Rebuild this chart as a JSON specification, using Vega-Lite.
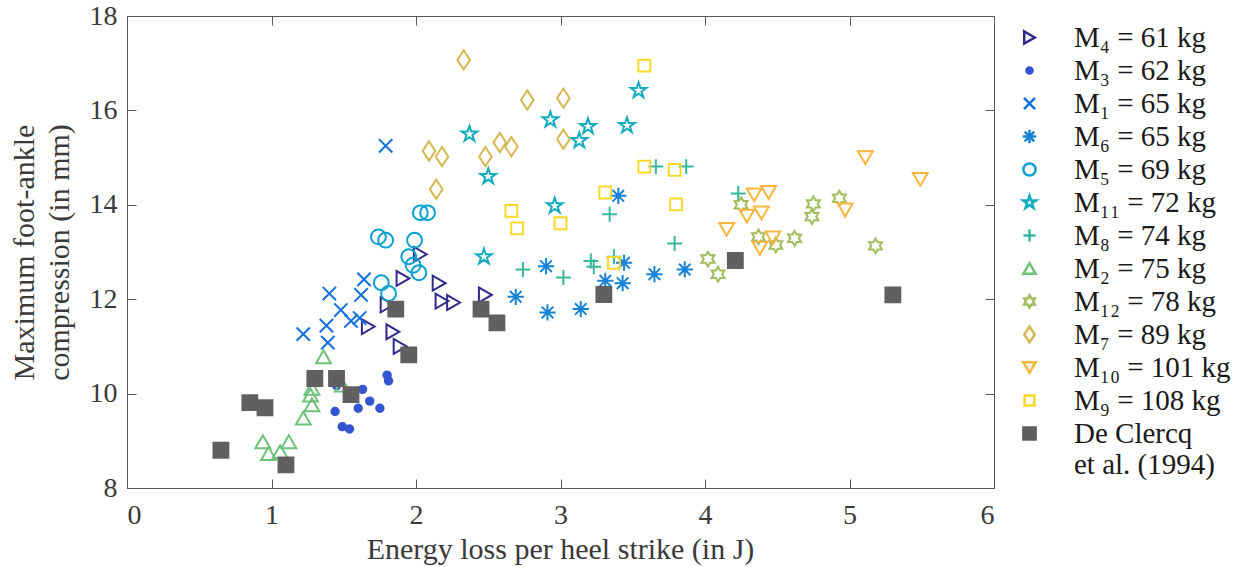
{
  "$schema": "https://vega.github.io/schema/vega-lite/v6.json",
  "autosize": "none",
  "width": 867,
  "height": 472,
  "padding": {"left": 127, "top": 16, "right": 255, "bottom": 79},
  "background": "white",
  "data": {"values": [
    {"s":"M₄ = 61 kg","x":2.03,"y":12.95},{"s":"M₄ = 61 kg","x":1.91,"y":12.44},{"s":"M₄ = 61 kg","x":2.16,"y":12.34},{"s":"M₄ = 61 kg","x":2.18,"y":11.96},{"s":"M₄ = 61 kg","x":2.26,"y":11.93},{"s":"M₄ = 61 kg","x":2.48,"y":12.09},{"s":"M₄ = 61 kg","x":1.80,"y":11.88},{"s":"M₄ = 61 kg","x":1.67,"y":11.42},{"s":"M₄ = 61 kg","x":1.84,"y":11.31},{"s":"M₄ = 61 kg","x":1.89,"y":11.0},
    {"s":"M₃ = 62 kg","x":1.80,"y":10.39},{"s":"M₃ = 62 kg","x":1.81,"y":10.27},{"s":"M₃ = 62 kg","x":1.63,"y":10.09},{"s":"M₃ = 62 kg","x":1.68,"y":9.84},{"s":"M₃ = 62 kg","x":1.60,"y":9.69},{"s":"M₃ = 62 kg","x":1.75,"y":9.69},{"s":"M₃ = 62 kg","x":1.44,"y":9.62},{"s":"M₃ = 62 kg","x":1.49,"y":9.30},{"s":"M₃ = 62 kg","x":1.54,"y":9.25},{"s":"M₃ = 62 kg","x":1.45,"y":10.17},
    {"s":"M₁ = 65 kg","x":1.64,"y":12.42},{"s":"M₁ = 65 kg","x":1.62,"y":12.09},{"s":"M₁ = 65 kg","x":1.40,"y":12.12},{"s":"M₁ = 65 kg","x":1.48,"y":11.77},{"s":"M₁ = 65 kg","x":1.38,"y":11.44},{"s":"M₁ = 65 kg","x":1.55,"y":11.54},{"s":"M₁ = 65 kg","x":1.61,"y":11.60},{"s":"M₁ = 65 kg","x":1.22,"y":11.26},{"s":"M₁ = 65 kg","x":1.39,"y":11.08},{"s":"M₁ = 65 kg","x":1.79,"y":15.25},
    {"s":"M₆ = 65 kg","x":2.90,"y":12.70},{"s":"M₆ = 65 kg","x":2.69,"y":12.05},{"s":"M₆ = 65 kg","x":2.91,"y":11.72},{"s":"M₆ = 65 kg","x":3.14,"y":11.79},{"s":"M₆ = 65 kg","x":3.31,"y":12.39},{"s":"M₆ = 65 kg","x":3.43,"y":12.34},{"s":"M₆ = 65 kg","x":3.44,"y":12.77},{"s":"M₆ = 65 kg","x":3.65,"y":12.53},{"s":"M₆ = 65 kg","x":3.86,"y":12.63},{"s":"M₆ = 65 kg","x":3.40,"y":14.19},
    {"s":"M₅ = 69 kg","x":2.03,"y":13.83},{"s":"M₅ = 69 kg","x":2.08,"y":13.83},{"s":"M₅ = 69 kg","x":1.74,"y":13.32},{"s":"M₅ = 69 kg","x":1.79,"y":13.25},{"s":"M₅ = 69 kg","x":1.99,"y":13.25},{"s":"M₅ = 69 kg","x":1.95,"y":12.90},{"s":"M₅ = 69 kg","x":1.98,"y":12.72},{"s":"M₅ = 69 kg","x":2.02,"y":12.56},{"s":"M₅ = 69 kg","x":1.76,"y":12.35},{"s":"M₅ = 69 kg","x":1.81,"y":12.12},
    {"s":"M₁₁ = 72 kg","x":3.54,"y":16.42},{"s":"M₁₁ = 72 kg","x":2.37,"y":15.50},{"s":"M₁₁ = 72 kg","x":2.93,"y":15.80},{"s":"M₁₁ = 72 kg","x":3.19,"y":15.66},{"s":"M₁₁ = 72 kg","x":3.13,"y":15.36},{"s":"M₁₁ = 72 kg","x":3.46,"y":15.68},{"s":"M₁₁ = 72 kg","x":2.50,"y":14.60},{"s":"M₁₁ = 72 kg","x":2.96,"y":13.98},{"s":"M₁₁ = 72 kg","x":2.47,"y":12.90},
    {"s":"M₈ = 74 kg","x":3.66,"y":14.81},{"s":"M₈ = 74 kg","x":3.87,"y":14.81},{"s":"M₈ = 74 kg","x":3.34,"y":13.80},{"s":"M₈ = 74 kg","x":3.79,"y":13.18},{"s":"M₈ = 74 kg","x":2.74,"y":12.63},{"s":"M₈ = 74 kg","x":3.02,"y":12.46},{"s":"M₈ = 74 kg","x":3.21,"y":12.81},{"s":"M₈ = 74 kg","x":3.23,"y":12.69},{"s":"M₈ = 74 kg","x":3.37,"y":12.90},{"s":"M₈ = 74 kg","x":4.23,"y":14.24},
    {"s":"M₂ = 75 kg","x":1.36,"y":10.78},{"s":"M₂ = 75 kg","x":1.28,"y":10.11},{"s":"M₂ = 75 kg","x":1.27,"y":9.97},{"s":"M₂ = 75 kg","x":1.28,"y":9.76},{"s":"M₂ = 75 kg","x":1.22,"y":9.48},{"s":"M₂ = 75 kg","x":1.49,"y":10.18},{"s":"M₂ = 75 kg","x":0.94,"y":8.98},{"s":"M₂ = 75 kg","x":1.12,"y":8.98},{"s":"M₂ = 75 kg","x":0.98,"y":8.73},{"s":"M₂ = 75 kg","x":1.06,"y":8.77},
    {"s":"M₁₂ = 78 kg","x":4.25,"y":14.0},{"s":"M₁₂ = 78 kg","x":4.37,"y":13.32},{"s":"M₁₂ = 78 kg","x":4.49,"y":13.15},{"s":"M₁₂ = 78 kg","x":4.62,"y":13.29},{"s":"M₁₂ = 78 kg","x":4.75,"y":14.02},{"s":"M₁₂ = 78 kg","x":4.74,"y":13.75},{"s":"M₁₂ = 78 kg","x":4.93,"y":14.14},{"s":"M₁₂ = 78 kg","x":5.18,"y":13.13},{"s":"M₁₂ = 78 kg","x":4.02,"y":12.85},{"s":"M₁₂ = 78 kg","x":4.09,"y":12.53},
    {"s":"M₇ = 89 kg","x":2.09,"y":15.14},{"s":"M₇ = 89 kg","x":2.18,"y":15.02},{"s":"M₇ = 89 kg","x":2.14,"y":14.33},{"s":"M₇ = 89 kg","x":2.33,"y":17.07},{"s":"M₇ = 89 kg","x":2.48,"y":15.02},{"s":"M₇ = 89 kg","x":2.58,"y":15.32},{"s":"M₇ = 89 kg","x":2.66,"y":15.23},{"s":"M₇ = 89 kg","x":2.77,"y":16.22},{"s":"M₇ = 89 kg","x":3.02,"y":16.26},{"s":"M₇ = 89 kg","x":3.02,"y":15.39},
    {"s":"M₁₀ = 101 kg","x":5.11,"y":15.0},{"s":"M₁₀ = 101 kg","x":5.49,"y":14.54},{"s":"M₁₀ = 101 kg","x":4.97,"y":13.89},{"s":"M₁₀ = 101 kg","x":4.15,"y":13.48},{"s":"M₁₀ = 101 kg","x":4.34,"y":14.21},{"s":"M₁₀ = 101 kg","x":4.44,"y":14.26},{"s":"M₁₀ = 101 kg","x":4.29,"y":13.76},{"s":"M₁₀ = 101 kg","x":4.39,"y":13.83},{"s":"M₁₀ = 101 kg","x":4.47,"y":13.30},{"s":"M₁₀ = 101 kg","x":4.38,"y":13.08},
    {"s":"M₉ = 108 kg","x":3.58,"y":16.95},{"s":"M₉ = 108 kg","x":3.58,"y":14.81},{"s":"M₉ = 108 kg","x":3.79,"y":14.74},{"s":"M₉ = 108 kg","x":3.31,"y":14.26},{"s":"M₉ = 108 kg","x":3.80,"y":14.01},{"s":"M₉ = 108 kg","x":2.66,"y":13.87},{"s":"M₉ = 108 kg","x":2.70,"y":13.50},{"s":"M₉ = 108 kg","x":3.00,"y":13.61},{"s":"M₉ = 108 kg","x":3.37,"y":12.77},
    {"s":"De Clercq et al. (1994)","x":0.65,"y":8.8},{"s":"De Clercq et al. (1994)","x":0.85,"y":9.81},{"s":"De Clercq et al. (1994)","x":0.955,"y":9.70},{"s":"De Clercq et al. (1994)","x":1.10,"y":8.49},{"s":"De Clercq et al. (1994)","x":1.30,"y":10.32},{"s":"De Clercq et al. (1994)","x":1.45,"y":10.32},{"s":"De Clercq et al. (1994)","x":1.55,"y":9.98},{"s":"De Clercq et al. (1994)","x":1.86,"y":11.79},{"s":"De Clercq et al. (1994)","x":1.95,"y":10.82},{"s":"De Clercq et al. (1994)","x":2.45,"y":11.79},{"s":"De Clercq et al. (1994)","x":2.56,"y":11.50},{"s":"De Clercq et al. (1994)","x":3.30,"y":12.10},{"s":"De Clercq et al. (1994)","x":4.21,"y":12.82},{"s":"De Clercq et al. (1994)","x":5.30,"y":12.09}
  ]},
  "layer": [
    {
      "mark": {"type": "point", "size": 220, "strokeWidth": 2, "opacity": 1},
      "encoding": {
        "x": {"field": "x", "type": "quantitative", "scale": {"domain": [0, 6], "nice": false},
              "axis": {"orient": "bottom", "title": "Energy loss per heel strike (in J)", "values": [0,1,2,3,4,5,6], "ticks": false, "labelPadding": 13, "titleX": 433, "titleY": 61, "titleBaseline": "middle", "titleAlign": "center"}},
        "y": {"field": "y", "type": "quantitative", "scale": {"domain": [8, 18], "nice": false, "zero": false},
              "axis": {"orient": "left", "title": ["Maximum foot-ankle", "compression (in mm)"], "values": [8,10,12,14,16,18], "ticks": false, "labelPadding": 10, "titleX": -94, "titleY": 236, "titleAngle": -90, "titleAlign": "center", "titleBaseline": "alphabetic", "titleLineHeight": 35}},
        "shape": {"field": "s", "type": "nominal",
          "legend": {"labelExpr": "datum.label == 'De Clercq et al. (1994)' ? ['De Clercq', 'et al. (1994)'] : datum.label"},
          "scale": {
          "domain": ["M₄ = 61 kg","M₃ = 62 kg","M₁ = 65 kg","M₆ = 65 kg","M₅ = 69 kg","M₁₁ = 72 kg","M₈ = 74 kg","M₂ = 75 kg","M₁₂ = 78 kg","M₇ = 89 kg","M₁₀ = 101 kg","M₉ = 108 kg","De Clercq et al. (1994)"],
          "range": ["triangle-right",
                    "M-0.5,0A0.5,0.5 0 1,0 0.5,0A0.5,0.5 0 1,0 -0.5,0Z",
                    "M-0.9,-0.9L0.9,0.9M0.9,-0.9L-0.9,0.9",
                    "M0,-1.1L0,1.1M-1.1,0L1.1,0M-0.78,-0.78L0.78,0.78M-0.78,0.78L0.78,-0.78",
                    "circle",
                    "M0,-1.1L0.25,-0.34L1.05,-0.34L0.4,0.13L0.65,0.89L0,0.42L-0.65,0.89L-0.4,0.13L-1.05,-0.34L-0.25,-0.34Z",
                    "M0,-1L0,1M-1,0L1,0",
                    "triangle-up",
                    "M0,-1L0.289,-0.5L0.866,-0.5L0.577,0L0.866,0.5L0.289,0.5L0,1L-0.289,0.5L-0.866,0.5L-0.577,0L-0.866,-0.5L-0.289,-0.5Z",
                    "M0,-1.3L0.85,0L0,1.3L-0.85,0Z",
                    "triangle-down",
                    "M-0.8,-0.8L0.8,-0.8L0.8,0.8L-0.8,0.8Z",
                    "square"]}},
        "stroke": {"field": "s", "type": "nominal",
          "legend": {"labelExpr": "datum.label == 'De Clercq et al. (1994)' ? ['De Clercq', 'et al. (1994)'] : datum.label"},
          "scale": {
          "domain": ["M₄ = 61 kg","M₃ = 62 kg","M₁ = 65 kg","M₆ = 65 kg","M₅ = 69 kg","M₁₁ = 72 kg","M₈ = 74 kg","M₂ = 75 kg","M₁₂ = 78 kg","M₇ = 89 kg","M₁₀ = 101 kg","M₉ = 108 kg","De Clercq et al. (1994)"],
          "range": ["#322a8a","#3454d1","#1170e0","#1683d8","#0ba0d2","#13acbe","#38b99e","#6cc17b","#a2bc5e","#d4b852","#fbb53c","#f8d92a","#606060"]}},
        "fill": {"field": "s", "type": "nominal",
          "legend": {"labelExpr": "datum.label == 'De Clercq et al. (1994)' ? ['De Clercq', 'et al. (1994)'] : datum.label"},
          "scale": {
          "domain": ["M₄ = 61 kg","M₃ = 62 kg","M₁ = 65 kg","M₆ = 65 kg","M₅ = 69 kg","M₁₁ = 72 kg","M₈ = 74 kg","M₂ = 75 kg","M₁₂ = 78 kg","M₇ = 89 kg","M₁₀ = 101 kg","M₉ = 108 kg","De Clercq et al. (1994)"],
          "range": ["transparent","#3454d1","transparent","transparent","transparent","transparent","transparent","transparent","transparent","transparent","transparent","transparent","#606060"]}}
      }
    },
    {
      "mark": {"type": "point", "opacity": 0},
      "encoding": {
        "x": {"field": "x", "type": "quantitative", "axis": {"orient": "bottom", "title": null, "labels": false, "domain": false, "values": [0,1,2,3,4,5,6], "tickSize": -9}},
        "y": {"field": "y", "type": "quantitative", "axis": {"orient": "left", "title": null, "labels": false, "domain": false, "values": [8,10,12,14,16,18], "tickSize": -9}}
      }
    },
    {
      "mark": {"type": "point", "opacity": 0},
      "encoding": {
        "x": {"field": "x", "type": "quantitative", "axis": {"orient": "top", "title": null, "labels": false, "domain": false, "values": [0,1,2,3,4,5,6], "tickSize": -9}},
        "y": {"field": "y", "type": "quantitative", "axis": {"orient": "right", "title": null, "labels": false, "domain": false, "values": [8,10,12,14,16,18], "tickSize": -9}}
      }
    }
  ],
  "resolve": {"axis": {"x": "independent", "y": "independent"}},
  "config": {
    "font": "Liberation Serif",
    "view": {"stroke": "#5a5a5a", "strokeWidth": 1},
    "axis": {"grid": false, "domain": false, "tickColor": "#5a5a5a", "tickWidth": 1,
             "labelFont": "Liberation Serif", "labelFontSize": 28, "labelColor": "#3a3a3a",
             "titleFont": "Liberation Serif", "titleFontSize": 30, "titleColor": "#3a3a3a", "titleFontWeight": "normal"},
    "legend": {"orient": "none", "legendX": 888, "legendY": 7, "title": null, "padding": 0,
               "labelFont": "Liberation Serif", "labelFontSize": 29, "labelColor": "#1a1a1a", "labelLimit": 400,
               "labelOffset": 30, "rowPadding": 3, "symbolSize": 150, "symbolStrokeWidth": 2.5, "symbolOpacity": 1}
  }
}
